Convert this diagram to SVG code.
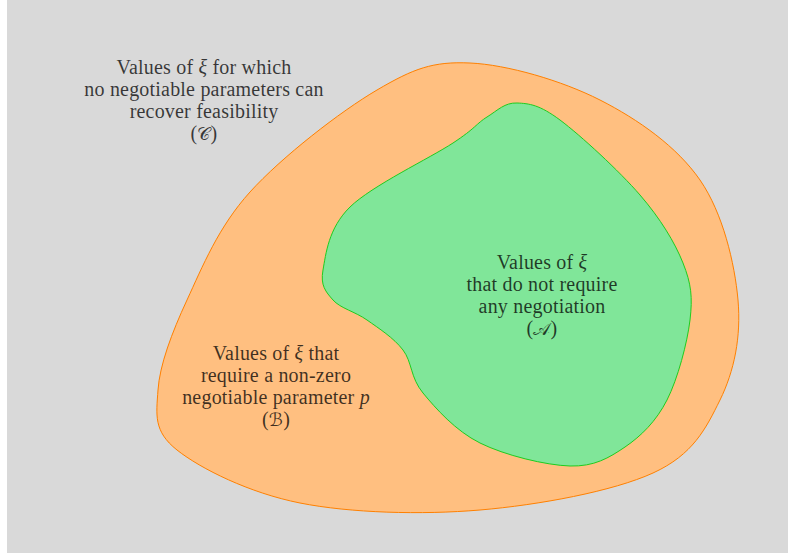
<svg xmlns="http://www.w3.org/2000/svg" width="788" height="556" viewBox="0 0 788 556">
<style>
.lbl{font-family:"Liberation Serif",serif;font-size:20px;letter-spacing:0.2px;fill:#000;fill-opacity:0.75;text-anchor:middle}
.it{font-style:italic}
.cal{font-family:"DejaVu Sans",sans-serif;font-size:18px}
.orange{fill:#ffbf80;stroke:#ff8000;stroke-width:1}
.green{fill:#80e699;stroke:#1fcc1f;stroke-width:1}
</style>
<rect x="7" y="0" width="781" height="553" fill="#d9d9d9"/>
<g id="region-B">
<path class="orange" d="M470,63 C507.2,64.7 561.7,80.5 600,100 C638.3,119.5 677,146.7 700,180 C723,213.3 734.7,263.3 738,300 C741.3,336.7 734.2,371.2 720,400 C705.8,428.8 693,454.7 653,473 C613,491.3 538.8,505 480,510 C421.2,515 350.5,513 300,503 C249.5,493 200.7,468.8 177,450 C153.3,431.2 156.3,415 158,390 C159.7,365 171.7,333 187,300 C202.3,267 218.3,227 250,192 C281.7,157 340.3,111.5 377,90 C413.7,68.5 432.8,61.3 470,63 Z"/>
</g>
<g id="region-A">
<path class="green" d="M517,103 C529.2,103.5 539.5,104.7 560,120 C580.5,135.3 619.5,171.2 640,195 C660.5,218.8 674.7,242.2 683,263 C691.3,283.8 692.7,297.2 690,320 C687.3,342.8 677.8,378.8 667,400 C656.2,421.2 641.2,436 625,447 C608.8,458 594.2,466.7 570,466 C545.8,465.3 504.5,455.2 480,443 C455.5,430.8 435.8,408.5 423,393 C410.2,377.5 412.3,362.2 403,350 C393.7,337.8 378.7,328.3 367,320 C355.3,311.7 340.3,308.3 333,300 C325.7,291.7 320.2,285.5 323,270 C325.8,254.5 328.3,228.2 350,207 C371.7,185.8 430.2,158 453,143 C475.8,128 476.3,123.7 487,117 C497.7,110.3 504.8,102.5 517,103 Z"/>
</g>
<g id="label-C">
<text class="lbl" x="204" y="74">Values of <tspan class="it">ξ</tspan> for which</text>
<text class="lbl" x="204" y="96">no negotiable parameters can</text>
<text class="lbl" x="204" y="118">recover feasibility</text>
<text class="lbl" x="204" y="140">(<tspan class="cal">𝒞</tspan>)</text>
</g>
<g id="label-B">
<text class="lbl" x="276" y="360">Values of <tspan class="it">ξ</tspan> that</text>
<text class="lbl" x="276" y="382">require a non-zero</text>
<text class="lbl" x="276" y="404">negotiable parameter <tspan class="it">p</tspan></text>
<text class="lbl" x="276" y="426">(<tspan class="cal">ℬ</tspan>)</text>
</g>
<g id="label-A">
<text class="lbl" x="542" y="269">Values of <tspan class="it">ξ</tspan></text>
<text class="lbl" x="542" y="291">that do not require</text>
<text class="lbl" x="542" y="313">any negotiation</text>
<text class="lbl" x="542" y="335">(<tspan class="cal">𝒜</tspan>)</text>
</g>
</svg>
